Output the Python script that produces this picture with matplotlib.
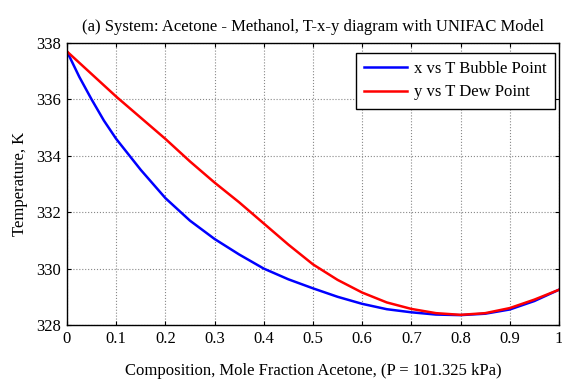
import matplotlib
matplotlib.use("Agg")
import matplotlib.pyplot as plt
import numpy as np

plt.rcParams['font.family'] = ['Liberation Serif', 'DejaVu Serif']

x_bubble = [0, 0.025, 0.05, 0.075, 0.1, 0.15, 0.2, 0.25, 0.3, 0.35, 0.4, 0.45, 0.5, 0.55, 0.6, 0.65, 0.7, 0.75, 0.8, 0.85, 0.9, 0.95, 1.0]
T_bubble = [337.7, 336.8, 336.0, 335.25, 334.6, 333.5, 332.5, 331.7, 331.05, 330.5, 330.0, 329.62, 329.3, 329.0, 328.75, 328.56, 328.45, 328.37, 328.35, 328.4, 328.55, 328.85, 329.25]
y_dew = [0, 0.05, 0.1, 0.15, 0.2, 0.25, 0.3, 0.35, 0.4, 0.45, 0.5, 0.55, 0.6, 0.65, 0.7, 0.75, 0.8, 0.85, 0.9, 0.95, 1.0]
T_dew = [337.7, 336.9, 336.1, 335.35, 334.6, 333.8, 333.05, 332.35, 331.6, 330.85, 330.15, 329.6, 329.15, 328.8, 328.57, 328.42, 328.36, 328.42, 328.6, 328.9, 329.25]

xticks = [0, 0.1, 0.2, 0.3, 0.4, 0.5, 0.6, 0.7, 0.8, 0.9, 1.0]
xtick_labels = ['0', '0.1', '0.2', '0.3', '0.4', '0.5', '0.6', '0.7', '0.8', '0.9', '1']
yticks = [328, 330, 332, 334, 336, 338]

fig = plt.figure(figsize=(5.62, 3.79), dpi=100)
ax = fig.add_axes([0.1192, 0.1425, 0.8754, 0.744])
ax.plot(x_bubble, T_bubble, color='blue', lw=1.8, label='x vs T Bubble Point')
ax.plot(y_dew, T_dew, color='red', lw=1.8, label='y vs T Dew Point')
ax.set_xlim(0, 1)
ax.set_ylim(328, 338)
ax.set_xticks(xticks)
ax.set_xticklabels(xtick_labels)
ax.set_yticks(yticks)
ax.tick_params(direction='in', top=True, right=True, labelsize=12, length=3, pad=4)
ax.grid(True, linestyle=':', color='#888888', lw=0.8)
for s in ax.spines.values():
    s.set_linewidth(1.0)
ax.set_title('(a) System: Acetone - Methanol, T-x-y diagram with UNIFAC Model', fontsize=12, pad=9)
ax.set_xlabel('Composition, Mole Fraction Acetone, (P = 101.325 kPa)', fontsize=12, labelpad=12)
ax.set_ylabel('Temperature, K', fontsize=12, labelpad=6)
leg = ax.legend(loc='upper right', bbox_to_anchor=(0.992, 0.966), borderaxespad=0,
                fontsize=12, fancybox=False, framealpha=1, edgecolor='black',
                handlelength=2.6, handletextpad=0.4, borderpad=0.5, labelspacing=0.45)
leg.get_frame().set_linewidth(1.0)
fig.savefig('out.png', dpi=100)
